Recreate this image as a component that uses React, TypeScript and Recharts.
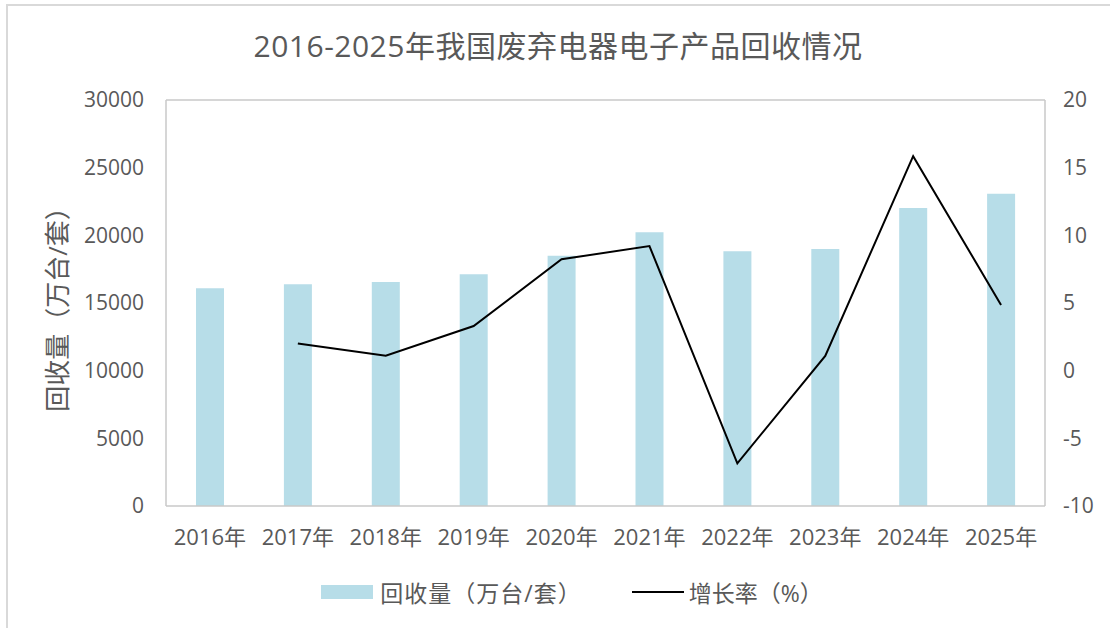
import React from 'react';
import {
  ComposedChart,
  Bar,
  Line,
  XAxis,
  YAxis,
  Legend,
  ReferenceLine,
} from 'recharts';

const years = ['2016年', '2017年', '2018年', '2019年', '2020年', '2021年', '2022年', '2023年', '2024年', '2025年'];
const recovery = [16090, 16380, 16550, 17120, 18500, 20220, 18820, 18990, 22020, 23080];
const growth: (number | null)[] = [null, 2.0, 1.1, 3.3, 8.23, 9.21, -6.85, 1.09, 15.85, 4.86];
const leftTicks = [0, 5000, 10000, 15000, 20000, 25000, 30000];
const rightTicks = [-10, -5, 0, 5, 10, 15, 20];

const title = '2016-2025年我国废弃电器电子产品回收情况';
const barName = '回收量（万台/套）';
const lineName = '增长率（%）';

const data = years.map((y, i) => ({ year: y, recovery: recovery[i], growth: growth[i] }));

const FONT = "'Open Sans', 'Noto Sans CJK SC', sans-serif";
const TEXT = '#595959';
const BAR = '#B7DDE8';
const BORDER = '#C9C9C9';

const LegendContent = () => (
  <div
    style={{
      display: 'flex',
      justifyContent: 'center',
      alignItems: 'center',
      height: 52,
      fontFamily: FONT,
      fontSize: 23,
      color: TEXT,
      paddingLeft: 34,
    }}
  >
    <div style={{ display: 'flex', alignItems: 'center', marginRight: 50 }}>
      <span style={{ display: 'inline-block', width: 52, height: 14, background: BAR, marginRight: 7 }} />
      <span style={{ letterSpacing: 1 }}>{barName}</span>
    </div>
    <div style={{ display: 'flex', alignItems: 'center' }}>
      <span style={{ display: 'inline-block', width: 52, height: 2, background: '#000', marginRight: 5 }} />
      <span>{lineName}</span>
    </div>
  </div>
);

export default function App() {
  return (
    <div
      style={{
        position: 'absolute',
        left: 0,
        top: 0,
        width: 1110,
        height: 628,
        overflow: 'hidden',
        background: '#fff',
      }}
    >
      <div
        style={{
          position: 'absolute',
          left: 6,
          top: 4,
          width: 1300,
          height: 800,
          border: '2px solid #D9D9D9',
        }}
      />
      <div
        style={{
          position: 'absolute',
          left: 0,
          top: 26,
          width: 1116,
          textAlign: 'center',
          fontFamily: FONT,
          fontSize: 30,
          lineHeight: '40px',
          color: TEXT,
          letterSpacing: 0.5,
        }}
      >
        {title}
      </div>
      <div style={{ position: 'absolute', left: 0, top: 0 }}>
        <ComposedChart
          width={1110}
          height={628}
          data={data}
          margin={{ top: 100, right: 0, left: 0, bottom: 10 }}
        >
          <XAxis
            dataKey="year"
            height={60}
            tickLine={false}
            tickSize={6}
            tickMargin={17}
            axisLine={{ stroke: BORDER, strokeWidth: 1.5 }}
            tick={{ fill: TEXT, fontSize: 22, fontFamily: FONT }}
            interval={0}
          />
          <YAxis
            yAxisId="left"
            width={166}
            domain={[0, 30000]}
            ticks={leftTicks}
            tickLine={false}
            tickSize={6}
            tickMargin={16}
            axisLine={{ stroke: BORDER, strokeWidth: 1.5 }}
            tick={{ fill: TEXT, fontSize: 21, fontFamily: FONT }}
            label={{
              value: barName,
              angle: -90,
              position: 'insideLeft',
              offset: 58,
              style: { textAnchor: 'middle', fill: TEXT, fontSize: 26, fontFamily: FONT },
            }}
          />
          <YAxis
            yAxisId="right"
            orientation="right"
            width={65}
            domain={[-10, 20]}
            ticks={rightTicks}
            tickLine={false}
            tickSize={6}
            tickMargin={12}
            axisLine={{ stroke: BORDER, strokeWidth: 1.5 }}
            tick={{ fill: TEXT, fontSize: 21, fontFamily: FONT, textAnchor: 'start' }}
          />
          <ReferenceLine yAxisId="left" y={30000} stroke={BORDER} strokeWidth={1.5} />
          <Legend verticalAlign="bottom" height={52} content={<LegendContent />} wrapperStyle={{ left: 0, width: 1110 }} />
          <Bar
            yAxisId="left"
            dataKey="recovery"
            name={barName}
            fill={BAR}
            barSize={28}
            isAnimationActive={false}
          />
          <Line
            yAxisId="right"
            dataKey="growth"
            name={lineName}
            stroke="#000"
            strokeWidth={2}
            dot={false}
            activeDot={false}
            connectNulls={false}
            isAnimationActive={false}
          />
        </ComposedChart>
      </div>
    </div>
  );
}
